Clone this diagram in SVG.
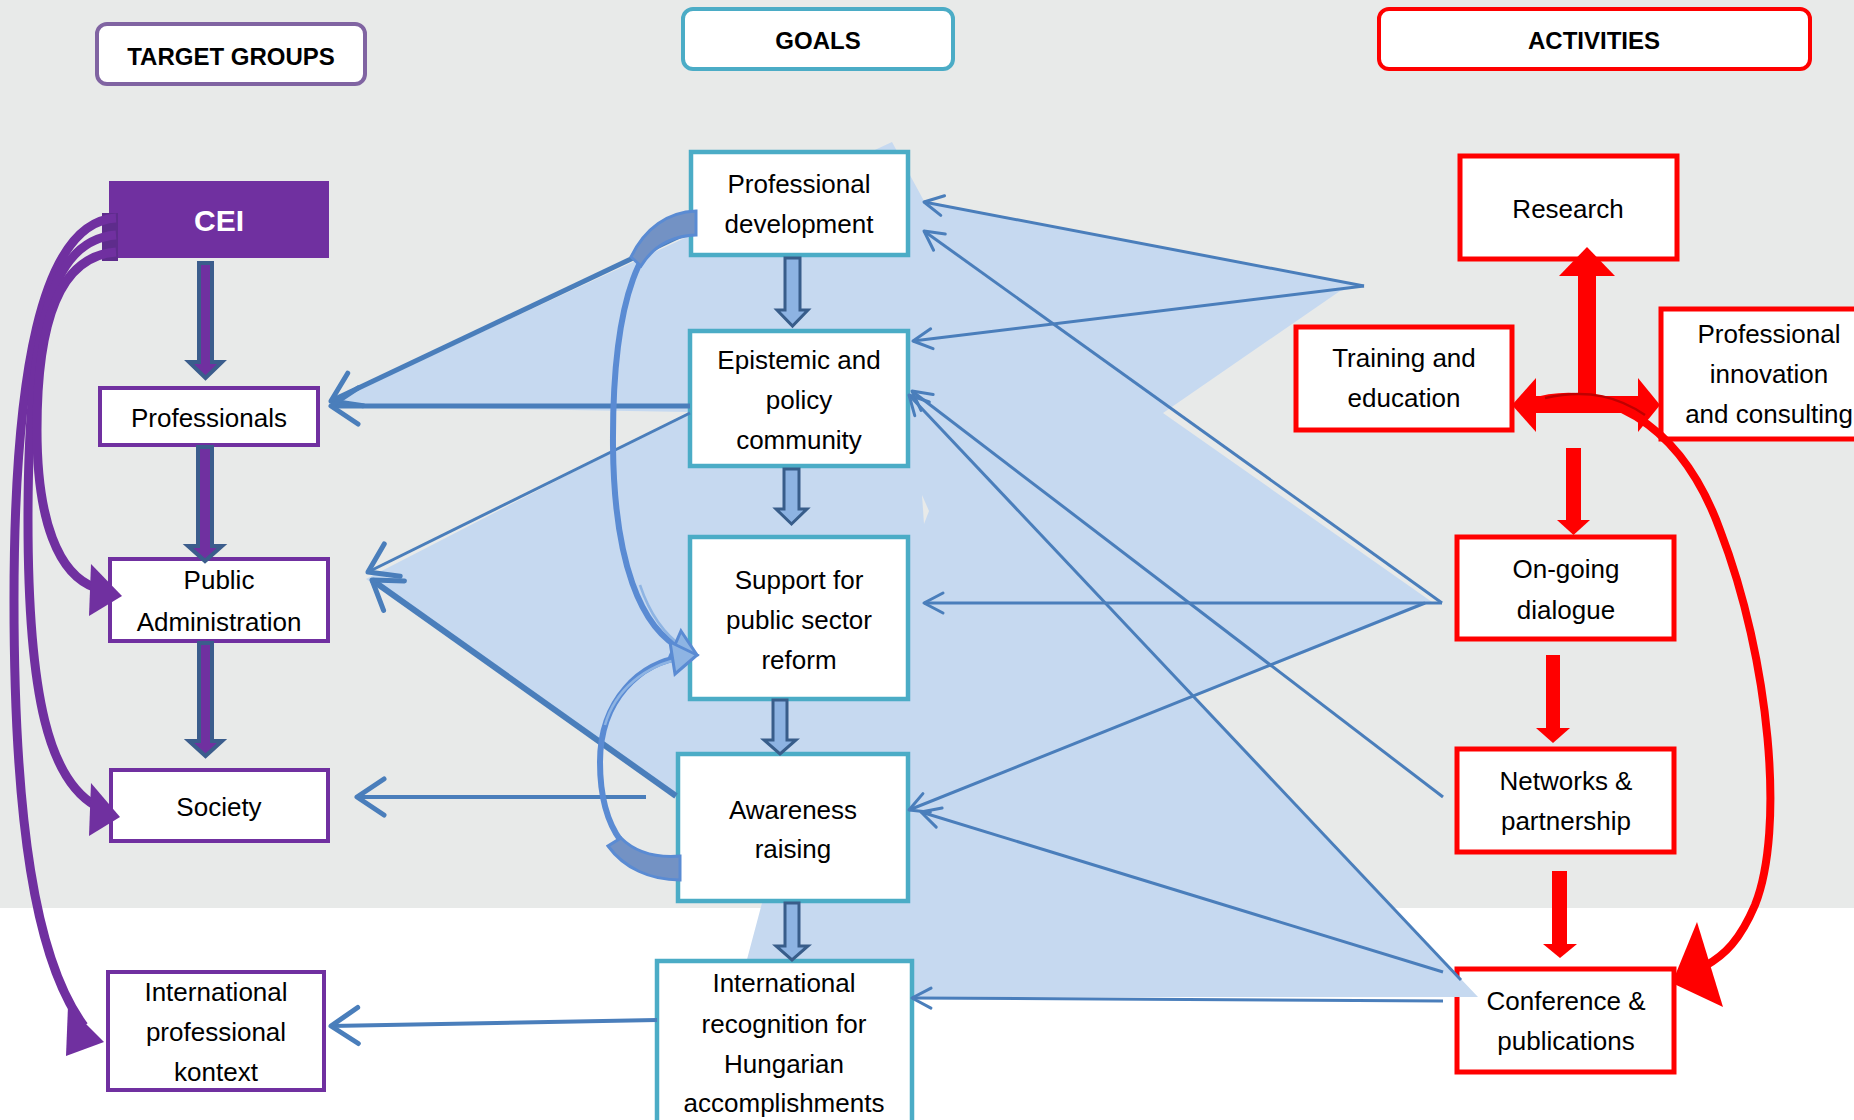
<svg xmlns="http://www.w3.org/2000/svg" width="1854" height="1120" viewBox="0 0 1854 1120">
<defs>
<style>
text{font-family:"Liberation Sans",Arial,sans-serif;font-size:26px;fill:#000;text-anchor:middle}
.hd{font-weight:bold;font-size:24px}
.tg{fill:#fff;stroke:#7030A0;stroke-width:4}
.gl{fill:#fff;stroke:#4BACC6;stroke-width:4.5}
.ac{fill:#fff;stroke:#FF0000;stroke-width:5}
.ln{fill:none;stroke:#4A7EBB;stroke-width:3}
.lnb{fill:none;stroke:#4A7EBB;stroke-width:5}
.pc{fill:none;stroke:#7030A0;stroke-width:9}
.pa{fill:#7030A0;stroke:#3B5D8C;stroke-width:4;stroke-linejoin:miter}
.ha{fill:#8DB3E2;stroke:#385D8A;stroke-width:3}
.rd{fill:#FF0000}
.bc{fill:none;stroke:#5A8BD3;stroke-width:6}
</style>
<marker id="sm" markerUnits="userSpaceOnUse" viewBox="-24 -14 28 28" markerWidth="28" markerHeight="28" refX="0" refY="0" orient="auto" overflow="visible">
<path d="M-19,-10 L0,0 L-19,10" fill="none" stroke="#4A7EBB" stroke-width="3" stroke-linecap="round" stroke-linejoin="round"/>
</marker>
<marker id="bm" markerUnits="userSpaceOnUse" viewBox="-34 -24 38 48" markerWidth="38" markerHeight="48" refX="0" refY="0" orient="auto" overflow="visible">
<path d="M-27,-18 L0,0 L-27,18" fill="none" stroke="#4A7EBB" stroke-width="5" stroke-linecap="round" stroke-linejoin="round"/>
</marker>
</defs>
<rect x="0" y="0" width="1854" height="1120" fill="#FFFFFF"/>
<rect x="0" y="0" width="1854" height="908" fill="#E8EAE9"/>

<g id="activities">
<g id="n-research"><rect class="ac" x="1460" y="156" width="217" height="103"/><text x="1568" y="218">Research</text></g>
<g id="n-training"><rect class="ac" x="1296" y="327" width="216" height="103"/><text x="1404" y="367">Training and</text><text x="1404" y="407">education</text></g>
<g id="n-innovation"><rect class="ac" x="1661" y="309" width="220" height="130"/><text x="1769" y="343">Professional</text><text x="1769" y="383">innovation</text><text x="1769" y="423">and consulting</text></g>
<g id="n-dialogue"><rect class="ac" x="1457" y="537" width="217" height="102"/><text x="1566" y="578">On-going</text><text x="1566" y="619">dialogue</text></g>
<g id="n-networks"><rect class="ac" x="1457" y="749" width="217" height="103"/><text x="1566" y="790">Networks &amp;</text><text x="1566" y="830">partnership</text></g>
<g id="n-conference"><rect class="ac" x="1457" y="969" width="217" height="103"/><text x="1566" y="1010">Conference &amp;</text><text x="1566" y="1050">publications</text></g>
</g>

<g id="fans">
<polygon fill="#C6D9F0" points="329,403 892,142 924,201 1365,286 1340,291 1163,413 1432,602 1194,697 1478,997 737,997 762,903 676,795 366,579 690,412 329,406"/>
<polygon fill="#E8EAE9" points="922,495 929,511 924,524"/>
</g>

<g id="headers">
<g id="h-target"><rect x="97" y="24" width="268" height="60" rx="10" fill="#fff" stroke="#8064A2" stroke-width="4"/><text class="hd" x="231" y="65">TARGET GROUPS</text></g>
<g id="h-goals"><rect x="683" y="9" width="270" height="60" rx="10" fill="#fff" stroke="#4BACC6" stroke-width="4"/><text class="hd" x="818" y="49">GOALS</text></g>
<g id="h-activities"><rect x="1379" y="9" width="431" height="60" rx="10" fill="#fff" stroke="#FF0000" stroke-width="4"/><text class="hd" x="1594" y="49">ACTIVITIES</text></g>
</g>

<g id="targets">
<g id="n-cei"><rect x="109" y="181" width="220" height="77" fill="#7030A0"/><text x="219" y="231" style="fill:#fff;font-weight:bold;font-size:30px">CEI</text></g>
<g id="n-professionals"><rect class="tg" x="100" y="388" width="218" height="57"/><text x="209" y="427">Professionals</text></g>
<g id="n-pa"><rect class="tg" x="110" y="559" width="218" height="82"/><text x="219" y="589">Public</text><text x="219" y="631">Administration</text></g>
<g id="n-society"><rect class="tg" x="111" y="770" width="217" height="71"/><text x="219" y="816">Society</text></g>
<g id="n-intlprof"><rect class="tg" x="108" y="972" width="216" height="118"/><text x="216" y="1001">International</text><text x="216" y="1041">professional</text><text x="216" y="1081">kontext</text></g>
</g>

<g id="goals">
<g id="n-profdev"><rect class="gl" x="691" y="152" width="217" height="103"/><text x="799" y="193">Professional</text><text x="799" y="233">development</text></g>
<g id="n-epistemic"><rect class="gl" x="690" y="331" width="218" height="135"/><text x="799" y="369">Epistemic and</text><text x="799" y="409">policy</text><text x="799" y="449">community</text></g>
<g id="n-support"><rect class="gl" x="690" y="537" width="218" height="162"/><text x="799" y="589">Support for</text><text x="799" y="629">public sector</text><text x="799" y="669">reform</text></g>
<g id="n-awareness"><rect class="gl" x="678" y="754" width="230" height="147"/><text x="793" y="819">Awareness</text><text x="793" y="858">raising</text></g>
<g id="n-intlrec"><rect class="gl" x="657" y="961" width="255" height="175"/><text x="784" y="992">International</text><text x="784" y="1033">recognition for</text><text x="784" y="1073">Hungarian</text><text x="784" y="1112">accomplishments</text></g>
</g>

<g id="connectors">
<!-- goals to target groups -->
<line class="lnb" x1="688" y1="232" x2="331" y2="401" marker-end="url(#bm)"/>
<line class="lnb" x1="690" y1="406" x2="331" y2="406" marker-end="url(#bm)"/>
<line class="ln" x1="690" y1="413" x2="368" y2="572" marker-end="url(#bm)"/>
<line class="lnb" x1="676" y1="796" x2="372" y2="580" marker-end="url(#bm)" style="stroke-width:6"/>
<line class="lnb" x1="646" y1="797" x2="357" y2="797" marker-end="url(#bm)" style="stroke-width:4"/>
<line class="lnb" x1="657" y1="1020" x2="331" y2="1026" marker-end="url(#bm)" style="stroke-width:4"/>
<!-- activities to goals -->
<line class="ln" x1="1364" y1="286" x2="924" y2="202" marker-end="url(#sm)"/>
<line class="ln" x1="1364" y1="286" x2="913" y2="341" marker-end="url(#sm)"/>
<line class="ln" x1="1442" y1="603" x2="924" y2="231" marker-end="url(#sm)"/>
<line class="ln" x1="1442" y1="603" x2="924" y2="603" marker-end="url(#sm)"/>
<line class="ln" x1="1425" y1="603" x2="909" y2="810" marker-end="url(#sm)"/>
<line class="ln" x1="1443" y1="797" x2="912" y2="391" marker-end="url(#sm)"/>
<line class="ln" x1="1461" y1="980" x2="909" y2="395" marker-end="url(#sm)"/>
<line class="ln" x1="1443" y1="972" x2="921" y2="812" marker-end="url(#sm)"/>
<line class="ln" x1="1443" y1="1001" x2="912" y2="998" marker-end="url(#sm)"/>
<!-- purple chain arrows -->
<polygon class="pa" points="199,263 212,263 212,362 222,362 205.5,378 189,362 199,362"/>
<polygon class="pa" points="198,447 212,447 212,546 222,546 205,561 188,546 198,546"/>
<polygon class="pa" points="199,643 212,643 212,741 222,741 205.5,756 189,741 199,741"/>
<!-- purple curved arrows from CEI -->
<rect x="102" y="213" width="16" height="48" fill="#5E2C8C"/>
<path class="pc" d="M116,218 C40,222 14,380 14,600 C14,820 35,960 84,1026"/>
<polygon fill="#7030A0" points="68,1006 104,1042 66,1056"/>
<path class="pc" d="M116,235 C50,240 28,330 28,520 C28,700 50,780 96,806"/>
<polygon fill="#7030A0" points="91,783 120,817 89,836"/>
<path class="pc" d="M116,252 C60,256 37,320 37,430 C37,520 58,575 96,588"/>
<polygon fill="#7030A0" points="91,564 122,596 89,616"/>
<!-- goals hollow arrows -->
<polygon class="ha" points="785,258 800,258 800,310 808,310 792.5,326 777,310 785,310"/>
<polygon class="ha" points="784,469 799,469 799,509 807,509 791.5,524 776,509 784,509"/>
<polygon class="ha" points="773,700 787,700 787,740 796,740 780,754 764,740 773,740"/>
<polygon class="ha" points="785,903 799,903 799,946 808,946 792,960 776,946 785,946"/>
<!-- blue curved arrows -->
<path class="bc" d="M695,222 C640,222 612,300 613,446 C614,560 640,630 684,650"/>
<path d="M640,585 C650,615 665,635 684,648" fill="none" stroke="#8EB4E3" stroke-width="2.5"/>
<path d="M696,211 L696,235 C670,236 652,248 641,266 L631,257 C645,228 668,212 696,211 Z" fill="#7392C4" stroke="#5A8BD3" stroke-width="3"/>
<polygon points="681,631 697,655 668,661" fill="#8EB4E3" stroke="#5A8BD3" stroke-width="3"/>
<path class="bc" d="M679,868 C630,870 600,830 600,762 C600,700 640,662 684,657"/>
<path d="M605,725 C615,690 645,665 684,658" fill="none" stroke="#8EB4E3" stroke-width="2.5"/>
<path d="M680,856 L680,880 C650,880 624,868 608,846 L621,838 C636,853 655,858 680,856 Z" fill="#7392C4" stroke="#5A8BD3" stroke-width="3"/>
<polygon points="670,642 697,655 675,674" fill="#8EB4E3" stroke="#5A8BD3" stroke-width="3"/>
<!-- red arrows -->
<rect class="rd" x="1578" y="272" width="18" height="140"/>
<polygon class="rd" points="1559,276 1587,247 1615,276"/>
<rect class="rd" x="1532" y="396" width="110" height="17"/>
<polygon class="rd" points="1536,378 1512,405 1536,432"/>
<polygon class="rd" points="1638,378 1660,405 1638,432"/>
<path d="M1530,403 C1600,380 1680,420 1720,530 C1770,660 1785,830 1755,905 C1740,940 1725,955 1705,966" fill="none" stroke="#FF0000" stroke-width="8"/>
<path d="M1545,398 C1590,388 1620,398 1645,415" fill="none" stroke="#C00000" stroke-width="2.5"/>
<polygon class="rd" points="1697,922 1723,1007 1672,983"/>
<rect class="rd" x="1566" y="448" width="15" height="73"/>
<polygon class="rd" points="1557,520 1590,520 1573.5,535"/>
<rect class="rd" x="1546" y="655" width="14" height="74"/>
<polygon class="rd" points="1536,728 1570,728 1553,743"/>
<rect class="rd" x="1552" y="871" width="15" height="74"/>
<polygon class="rd" points="1543,944 1577,944 1560,958"/>
</g>
</svg>
